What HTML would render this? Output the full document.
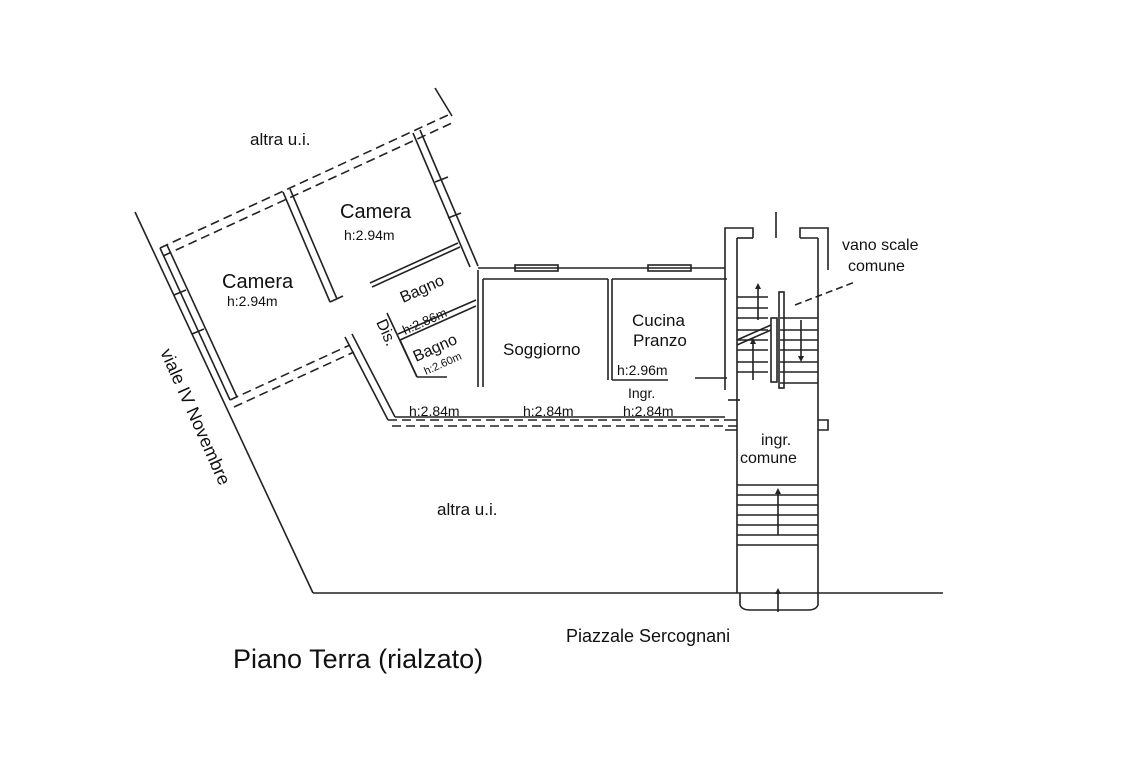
<!DOCTYPE html>
<html><head><meta charset="utf-8"><style>
html,body{margin:0;padding:0;background:#fff}
svg{display:block}
text{font-family:"Liberation Sans",Arial,sans-serif;fill:#111}
</style></head><body>
<svg width="1127" height="768" viewBox="0 0 1127 768" xmlns="http://www.w3.org/2000/svg">
<g stroke="#222" stroke-width="1.6" fill="none">
<line x1="135" y1="212" x2="313" y2="593"/>
<line x1="313" y1="593" x2="943" y2="593"/>
<line x1="160" y1="248" x2="448" y2="115" stroke-dasharray="9,5"/>
<line x1="163" y1="256" x2="452" y2="123" stroke-dasharray="9,5"/>
<line x1="435" y1="88" x2="452" y2="116"/>
<line x1="160" y1="248" x2="230" y2="400"/>
<line x1="167" y1="245" x2="237" y2="397"/>
<line x1="174" y1="295" x2="186" y2="290"/>
<line x1="192" y1="334" x2="204" y2="329"/>
<line x1="230" y1="400" x2="350" y2="345" stroke-dasharray="9,5"/>
<line x1="234" y1="407" x2="354" y2="352" stroke-dasharray="9,5"/>
<line x1="283" y1="192" x2="330" y2="302"/>
<line x1="290" y1="189" x2="337" y2="299"/>
<line x1="330" y1="302" x2="343" y2="296"/>
<line x1="413" y1="133" x2="470" y2="267"/>
<line x1="420" y1="130" x2="478" y2="266"/>
<line x1="435" y1="182" x2="448" y2="177"/>
<line x1="448" y1="218" x2="461" y2="213"/>
<line x1="372" y1="287" x2="460" y2="247"/>
<line x1="370" y1="283" x2="458" y2="243"/>
<line x1="400" y1="340" x2="476" y2="306"/>
<line x1="398" y1="334" x2="476" y2="300"/>
<line x1="387" y1="313" x2="417" y2="377"/>
<line x1="400" y1="340" x2="417" y2="377"/>
<line x1="417" y1="377" x2="447" y2="377"/>
<line x1="345" y1="337" x2="388" y2="420"/>
<line x1="352" y1="334" x2="395" y2="417"/>
<line x1="388" y1="420" x2="725" y2="420" stroke-dasharray="9,5"/>
<line x1="392" y1="426" x2="740" y2="426" stroke-dasharray="9,5"/>
<line x1="395" y1="417" x2="725" y2="417"/>
<line x1="478" y1="268" x2="725" y2="268"/>
<line x1="483" y1="279" x2="608" y2="279"/>
<line x1="612" y1="279" x2="727" y2="279"/>
<rect x="515" y="265" width="43" height="6"/>
<rect x="648" y="265" width="43" height="6"/>
<line x1="483" y1="279" x2="483" y2="387"/>
<line x1="478" y1="270" x2="478" y2="387"/>
<line x1="608" y1="279" x2="608" y2="380"/>
<line x1="612" y1="279" x2="612" y2="380"/>
<line x1="612" y1="380" x2="668" y2="380"/>
<line x1="695" y1="378" x2="727" y2="378"/>
<path d="M725 268 V228 H753 V238"/>
<path d="M800 238 V228 H828 V270"/>
<line x1="737" y1="238" x2="753" y2="238"/>
<line x1="800" y1="238" x2="818" y2="238"/>
<line x1="776" y1="212" x2="776" y2="238"/>
<line x1="737" y1="238" x2="737" y2="593"/>
<line x1="818" y1="238" x2="818" y2="593"/>
<line x1="725" y1="268" x2="725" y2="390"/>
<g>
<line x1="737" y1="297" x2="768" y2="297"/><line x1="737" y1="308" x2="768" y2="308"/>
<line x1="737" y1="318" x2="768" y2="318"/><line x1="737" y1="330" x2="768" y2="330"/>
<line x1="737" y1="340" x2="768" y2="340"/><line x1="737" y1="350" x2="768" y2="350"/>
<line x1="737" y1="362" x2="768" y2="362"/><line x1="737" y1="372" x2="768" y2="372"/>
<line x1="780" y1="318" x2="818" y2="318"/><line x1="780" y1="330" x2="818" y2="330"/>
<line x1="780" y1="340" x2="818" y2="340"/><line x1="780" y1="350" x2="818" y2="350"/>
<line x1="780" y1="362" x2="818" y2="362"/><line x1="780" y1="372" x2="818" y2="372"/>
<line x1="780" y1="383" x2="818" y2="383"/>
<rect x="779" y="292" width="5" height="96"/>
<rect x="771" y="318" width="6" height="64"/>
<line x1="737" y1="340" x2="771" y2="325"/><line x1="737" y1="345" x2="771" y2="330"/>
<line x1="758" y1="285" x2="758" y2="320"/><line x1="753" y1="340" x2="753" y2="380"/>
<line x1="801" y1="320" x2="801" y2="360"/>
</g>
<line x1="737" y1="485" x2="818" y2="485"/><line x1="737" y1="495" x2="818" y2="495"/>
<line x1="737" y1="505" x2="818" y2="505"/><line x1="737" y1="515" x2="818" y2="515"/>
<line x1="737" y1="525" x2="818" y2="525"/><line x1="737" y1="535" x2="818" y2="535"/>
<line x1="737" y1="545" x2="818" y2="545"/>
<line x1="778" y1="490" x2="778" y2="535"/>
<path d="M740 593 V605 Q742 610 750 610 H808 Q816 610 818 605 V593"/>
<line x1="778" y1="590" x2="778" y2="612"/>
<path d="M725 420 H737 M725 430 H737 M818 420 H828 V430 H818"/>
<line x1="728" y1="400" x2="740" y2="400"/>
<line x1="795" y1="305" x2="855" y2="282" stroke-dasharray="7,4"/>
</g>
<g fill="#222" stroke="none">
<path d="M758 283 l-3 6 h6z"/><path d="M753 338 l-3 6 h6z"/><path d="M801 362 l-3 -6 h6z"/><path d="M778 488 l-3 6 h6z"/><path d="M778 588 l-3 6 h6z"/>
</g>
<text x="250" y="145" font-size="17">altra u.i.</text>
<text x="340" y="218" font-size="20">Camera</text>
<text x="344" y="240" font-size="14">h:2.94m</text>
<text x="222" y="288" font-size="20">Camera</text>
<text x="227" y="306" font-size="14">h:2.94m</text>
<text x="0" y="0" font-size="16" transform="translate(403,303) rotate(-24)">Bagno</text>
<text x="0" y="0" font-size="13" transform="translate(405,335) rotate(-24)">h:2.86m</text>
<text x="0" y="0" font-size="16" transform="translate(416,362) rotate(-24)">Bagno</text>
<text x="0" y="0" font-size="11" transform="translate(426,375) rotate(-24)">h:2.60m</text>
<text x="0" y="0" font-size="16" transform="translate(376,322) rotate(66)">Dis.</text>
<text x="503" y="355" font-size="17">Soggiorno</text>
<text x="632" y="326" font-size="17">Cucina</text>
<text x="633" y="346" font-size="17">Pranzo</text>
<text x="617" y="375" font-size="14">h:2.96m</text>
<text x="628" y="398" font-size="14">Ingr.</text>
<text x="409" y="416" font-size="14">h:2.84m</text>
<text x="523" y="416" font-size="14">h:2.84m</text>
<text x="623" y="416" font-size="14">h:2.84m</text>
<text x="761" y="445" font-size="16">ingr.</text>
<text x="740" y="463" font-size="16">comune</text>
<text x="842" y="250" font-size="16">vano scale</text>
<text x="848" y="271" font-size="16">comune</text>
<text x="437" y="515" font-size="17">altra u.i.</text>
<text x="0" y="0" font-size="18" transform="translate(160,352) rotate(66)">viale IV Novembre</text>
<text x="566" y="642" font-size="18">Piazzale Sercognani</text>
<text x="233" y="668" font-size="27">Piano Terra (rialzato)</text>
</svg>
</body></html>
